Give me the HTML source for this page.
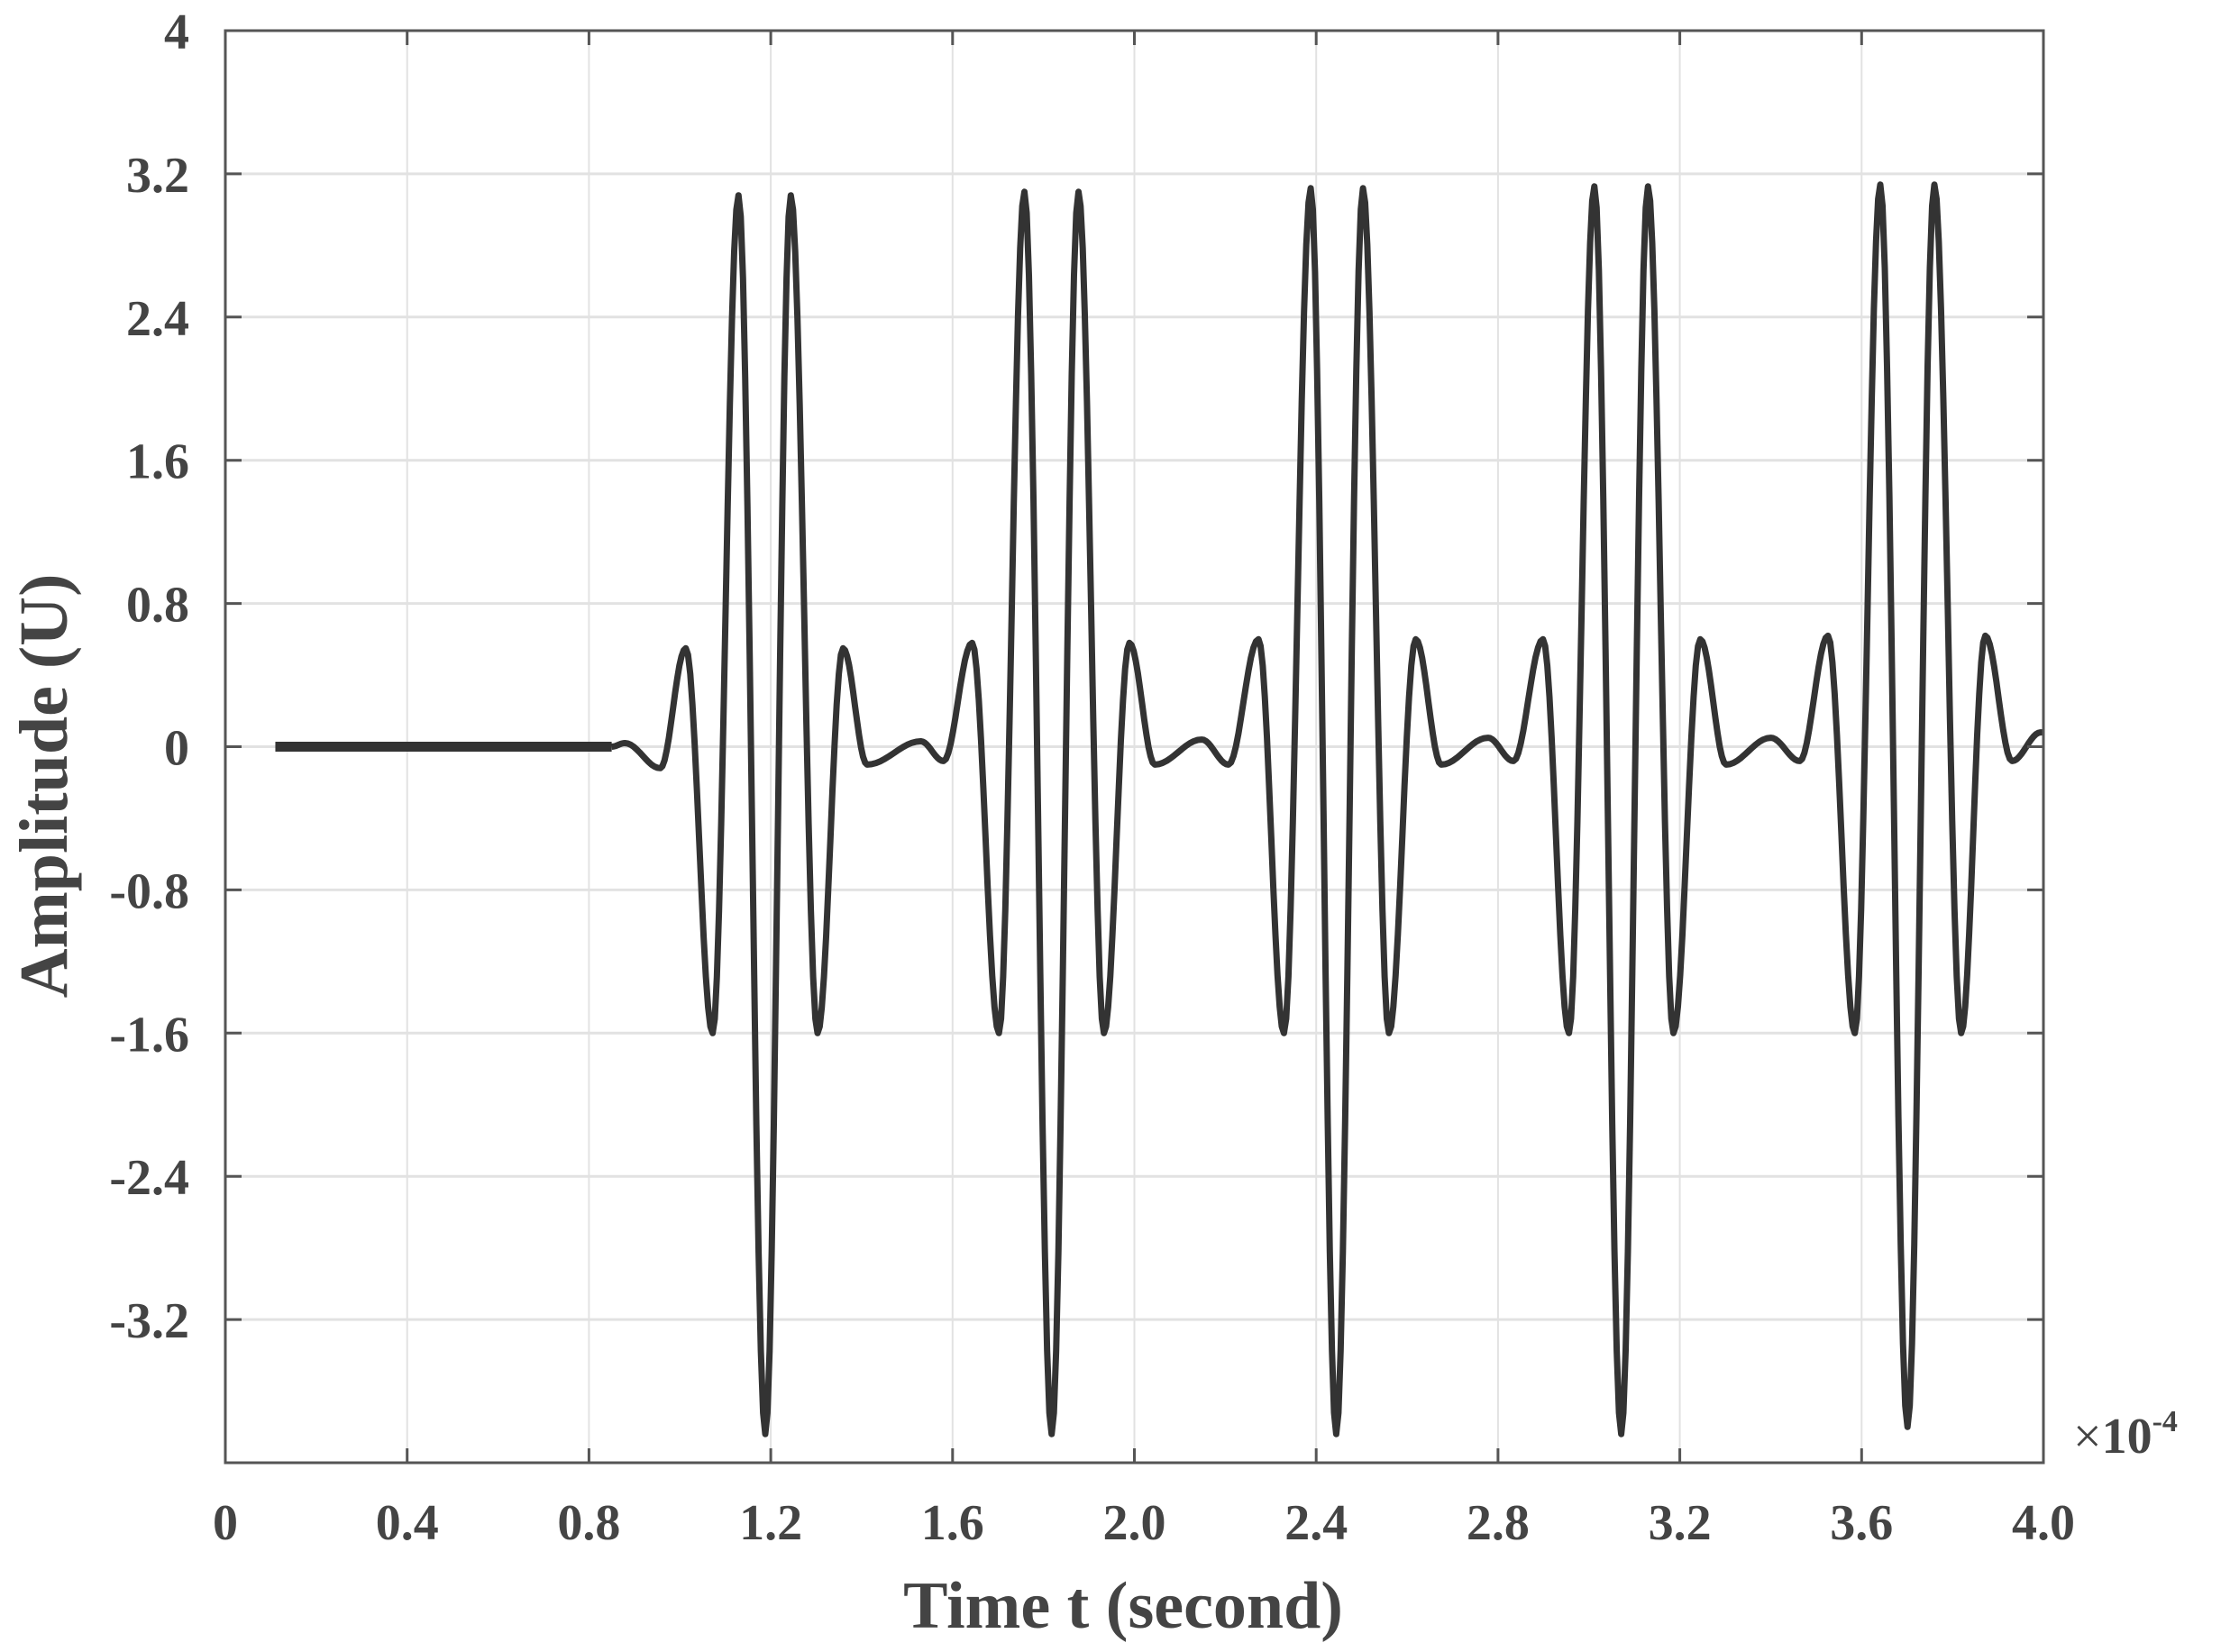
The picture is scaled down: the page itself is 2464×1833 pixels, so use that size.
<!DOCTYPE html>
<html><head><meta charset="utf-8">
<style>
html,body{margin:0;padding:0;background:#fff;}
svg{display:block;}
text{font-family:"Liberation Serif",serif;font-weight:bold;fill:#444;}
</style></head>
<body>
<svg id="chart" width="2464" height="1833" viewBox="0 0 2464 1833" xmlns="http://www.w3.org/2000/svg">
<g id="grid"></g>
<g id="curve"></g>
<g id="axes"></g>
<text x="1246" y="1806" font-size="74" text-anchor="middle">Time t (second)</text>
<text x="0" y="0" font-size="76" text-anchor="middle" transform="translate(74,872) rotate(-90)">Amplitude (U)</text>
<text x="2300" y="1612" font-size="56"><tspan font-weight="normal">×</tspan>10<tspan font-size="34" dy="-24">-4</tspan></text>
</svg>
<script>
const xTicks=[0,0.4,0.8,1.2,1.6,2.0,2.4,2.8,3.2,3.6,4.0];
const xTickLabels=["0","0.4","0.8","1.2","1.6","2.0","2.4","2.8","3.2","3.6","4.0"];
const yTicks=[-4,-3.2,-2.4,-1.6,-0.8,0,0.8,1.6,2.4,3.2,4];
const yTickLabels=["","-3.2","-2.4","-1.6","-0.8","0","0.8","1.6","2.4","3.2","4"];
// extrema points of the signal (time ×1e-4 s, amplitude)
const flatTimes=[0.11,0.85];
const extremaTimes=[0.85,0.879,0.957,1.013,1.072,1.129,1.188,1.244,1.303,1.359,1.412,1.53,1.58,
1.643,1.702,1.758,1.818,1.877,1.933,1.989,2.045,2.148,2.207,
2.273,2.329,2.388,2.444,2.503,2.560,2.619,2.675,2.778,2.834,
2.899,2.956,3.012,3.071,3.13,3.186,3.245,3.302,3.40,3.464,
3.526,3.585,3.641,3.701,3.760,3.819,3.872,3.931,3.994,4.0];
const extremaValues=[0,0.02,-0.12,0.55,-1.6,3.08,-3.84,3.08,-1.6,0.55,-0.1,0.03,-0.08,
0.58,-1.6,3.1,-3.84,3.1,-1.6,0.58,-0.1,0.04,-0.1,
0.6,-1.6,3.12,-3.84,3.12,-1.6,0.6,-0.1,0.05,-0.08,
0.6,-1.6,3.13,-3.84,3.13,-1.6,0.6,-0.1,0.05,-0.08,
0.62,-1.6,3.14,-3.8,3.14,-1.6,0.62,-0.08,0.08,0.08];

const X0=250,X1=2267,Y0=1623,Y1=34;
const xs=t=>X0+(t-0)/(4-0)*(X1-X0);
const ys=v=>Y0-(v+4)/(8)*(Y0-Y1);
const NS="http://www.w3.org/2000/svg";
function mk(tag,attrs,parent){const e=document.createElementNS(NS,tag);for(const k in attrs)e.setAttribute(k,attrs[k]);parent.appendChild(e);return e;}
const grid=document.getElementById('grid'),axes=document.getElementById('axes'),curve=document.getElementById('curve');
xTicks.forEach((t,i)=>{
  const g=mk('line',{x1:xs(t),x2:xs(t),y1:Y1,y2:Y0,stroke:'#e2e2e2','stroke-width':2},grid);
  
  
  const tk=mk('line',{x1:xs(t),x2:xs(t),y1:Y0,y2:Y0-16,stroke:'#555','stroke-width':3},axes);
  
  
  const tk2=mk('line',{x1:xs(t),x2:xs(t),y1:Y1,y2:Y1+16,stroke:'#555','stroke-width':3},axes);
  
  
  const lb=mk('text',{x:xs(t),y:1708,'font-size':56,'text-anchor':'middle'},axes);
  lb.textContent=xTickLabels[i];
  
  
});
yTicks.forEach((v,i)=>{
  const g=mk('line',{x1:X0,x2:X1,y1:ys(v),y2:ys(v),stroke:'#e2e2e2','stroke-width':3},grid);
  
  
  const tk=mk('line',{x1:X0,x2:X0+18,y1:ys(v),y2:ys(v),stroke:'#555','stroke-width':3},axes);
  
  
  const tk2=mk('line',{x1:X1,x2:X1-18,y1:ys(v),y2:ys(v),stroke:'#555','stroke-width':3},axes);
  
  
  const lb=mk('text',{x:210,y:ys(v)+20,'font-size':56,'text-anchor':'end'},axes);
  lb.textContent=yTickLabels[i];
  
  
});
const box=mk('rect',{x:X0,y:Y1,width:X1-X0,height:Y0-Y1,fill:'none',stroke:'#555','stroke-width':3},axes);


const fl=mk('line',{x1:xs(flatTimes[0]),x2:xs(flatTimes[1]),y1:ys(0),y2:ys(0),stroke:'#333','stroke-width':11},curve);


let d='';
for(let i=0;i<extremaTimes.length-1;i++){
  const t0=extremaTimes[i],t1=extremaTimes[i+1],a=extremaValues[i],b=extremaValues[i+1];
  for(let s=0;s<=12;s++){
    if(i>0&&s===0)continue;
    const f=s/12,t=t0+(t1-t0)*f,v=a+(b-a)*(1-Math.cos(Math.PI*f))/2;
    d+=(d?'L':'M')+xs(t).toFixed(1)+' '+ys(v).toFixed(1);
  }
}
const p=mk('path',{d:d,fill:'none',stroke:'#333','stroke-width':7,'stroke-linejoin':'round'},curve);


</script>
</body></html>
